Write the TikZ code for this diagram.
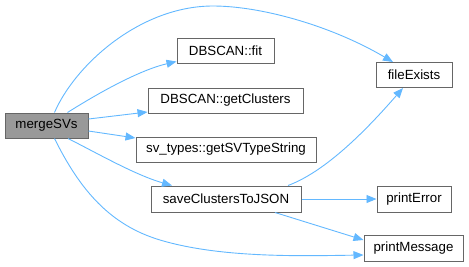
\documentclass[tikz,border=0pt]{standalone}
\usepackage{fontspec}
\setmainfont{Liberation Sans}
\usetikzlibrary{arrows.meta}
\definecolor{edgeblue}{HTML}{63B8FF}
\definecolor{boxline}{HTML}{666666}
\definecolor{rootfill}{HTML}{999999}
\begin{document}
\begin{tikzpicture}[x=1pt,y=-1pt,
  fn/.style={draw=boxline, fill=white, line width=1pt, inner sep=0pt,
    minimum height=25pt, font=\fontsize{13.3}{15}\selectfont, anchor=center},
  root/.style={fn, fill=rootfill},
  call/.style={draw=edgeblue, line width=0.9pt,
    -{Triangle[length=10pt,width=8pt,fill=edgeblue]}}
]
\useasboundingbox (0,0) rectangle (469,266);

% functions
\node[root, minimum width=83pt]  (m)  at (46.5,125.5) {mergeSVs};
\node[fn, minimum width=97pt]    (fit) at (225.5,50.5) {DBSCAN::fit};
\node[fn, minimum width=155pt]   (gc) at (225.5,100.5) {DBSCAN::getClusters};
\node[fn, minimum width=180pt]   (sv) at (226,149.5) {sv\_types::getSVTypeString};
\node[fn, minimum width=150pt, minimum height=26pt] (save) at (226,199) {saveClustersToJSON};
\node[fn, minimum width=76pt]    (fe) at (414,75) {fileExists};
\node[fn, minimum width=74pt, minimum height=26pt] (pe) at (414,199) {printError};
\node[fn, minimum width=99pt, minimum height=26pt] (pm) at (413.5,248) {printMessage};

\coordinate (arcTop) at (213,6);
\coordinate (arcLow) at (160,240);

% calls from mergeSVs
\draw[call] ([xshift=8pt]m.north) .. controls (75,65) and (140,6) .. (arcTop)
  .. controls (260,6) and (330,25) .. ([xshift=-21pt]fe.north);
\draw[call] ([xshift=21pt]m.north) .. controls (100,92) and (140,70) .. ([yshift=2pt]fit.south west);
\draw[call] ([yshift=6.5pt]m.east) -- ([yshift=-11.5pt]gc.west);
\draw[call] ([yshift=-5.5pt]m.east) -- ([yshift=11.5pt]sv.west);
\draw[call] ([xshift=21.5pt]m.south) .. controls (95,152) and (135,175) .. ([xshift=-54pt]save.north);
\draw[call] ([xshift=8pt]m.south) .. controls (80,190) and (110,225) .. (arcLow)
  .. controls (220,258) and (300,256) .. ([yshift=-7pt]pm.west);

% calls from saveClustersToJSON
\draw[call] ([xshift=62pt]save.north) .. controls (330,170) and (375,120) .. ([xshift=-11pt]fe.south);
\draw[call] (save.east) -- (pe.west);
\draw[call] ([xshift=49pt]save.south) -- ([yshift=8pt]pm.west);
\end{tikzpicture}
\end{document}
